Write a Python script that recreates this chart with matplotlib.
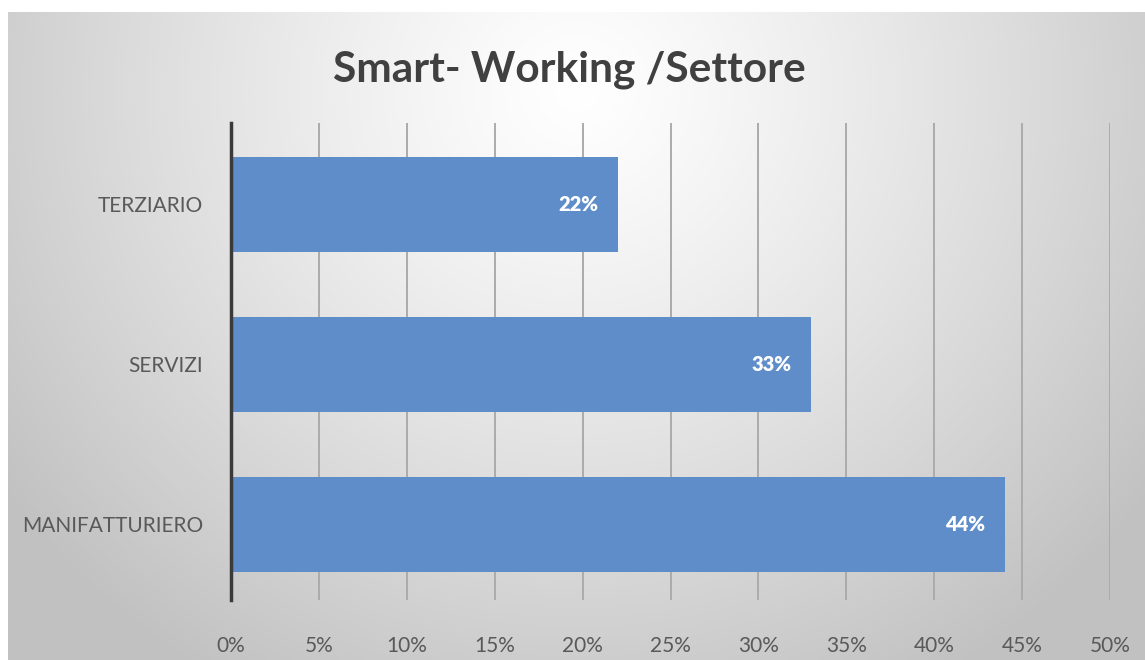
import numpy as np
import matplotlib
matplotlib.use("Agg")
import matplotlib.pyplot as plt
from matplotlib.ticker import PercentFormatter

# Chart data
categories = ["MANIFATTURIERO", "SERVIZI", "TERZIARIO"]
values = [44, 33, 22]
x_ticks = [0, 5, 10, 15, 20, 25, 30, 35, 40, 45, 50]
title = "Smart- Working /Settore"

W, H = 1145, 660
fig = plt.figure(figsize=(W / 100, H / 100), dpi=100)
fig.patch.set_facecolor("white")

# Chart area background: soft radial gradient, light at the top centre
bg = fig.add_axes([8 / W, 0, 1 - 8 / W, 1 - 12 / H])
bg.set_axis_off()
ny, nx = 300, 520
yy, xx = np.mgrid[0:ny, 0:nx]
cx, cy = nx * 0.5, ny * 0.12
d = np.sqrt(((xx - cx) / (nx * 0.62)) ** 2 + ((yy - cy) / (ny * 1.05)) ** 2)
d = np.clip(d, 0, 1) ** 1.2
lo, hi = 0.76, 1.0
g = hi - (hi - lo) * d
img = np.dstack([g, g, g])
bg.imshow(img, aspect="auto", extent=[0, 1, 0, 1], origin="upper", interpolation="bicubic")
bg.set_xlim(0, 1)
bg.set_ylim(0, 1)

ax = fig.add_axes([231 / W, 1 - 600 / H, (1110 - 231) / W, (600 - 123) / H])
ax.patch.set_alpha(0)

ypos = np.arange(len(categories))
bars = ax.barh(ypos, values, height=0.594, color="#5f8dc9", zorder=3)

ax.set_xlim(0, 50)
ax.set_ylim(-0.472, 2.509)
ax.set_xticks(x_ticks)
ax.xaxis.set_major_formatter(PercentFormatter(decimals=0))
ax.set_yticks(ypos)
ax.set_yticklabels(categories)

label_font = "Lato"
ax.tick_params(axis="both", length=0, labelcolor="#595959", labelsize=15)
ax.tick_params(axis="x", pad=26)
ax.tick_params(axis="y", pad=20)
for lbl in ax.get_xticklabels() + ax.get_yticklabels():
    lbl.set_fontfamily(label_font)

ax.grid(axis="x", color="#ababab", linewidth=1.4, zorder=1)
ax.grid(axis="y", visible=False)
for side in ("top", "right", "bottom"):
    ax.spines[side].set_visible(False)
ax.spines["left"].set_color("#3a3a3a")
ax.spines["left"].set_linewidth(2.5)
ax.spines["left"].set_zorder(4)

for rect, v in zip(bars, values):
    ax.text(v - 1.1, rect.get_y() + rect.get_height() / 2, f"{v}%",
            ha="right", va="center", color="white", fontsize=14.5,
            fontweight="heavy", fontfamily=label_font, zorder=5)

fig.text(569 / W, 1 - 70 / H, title, ha="center", va="center",
         fontsize=30.5, fontweight="bold", color="#404040", fontfamily=label_font)

fig.savefig("out.png", dpi=100)
